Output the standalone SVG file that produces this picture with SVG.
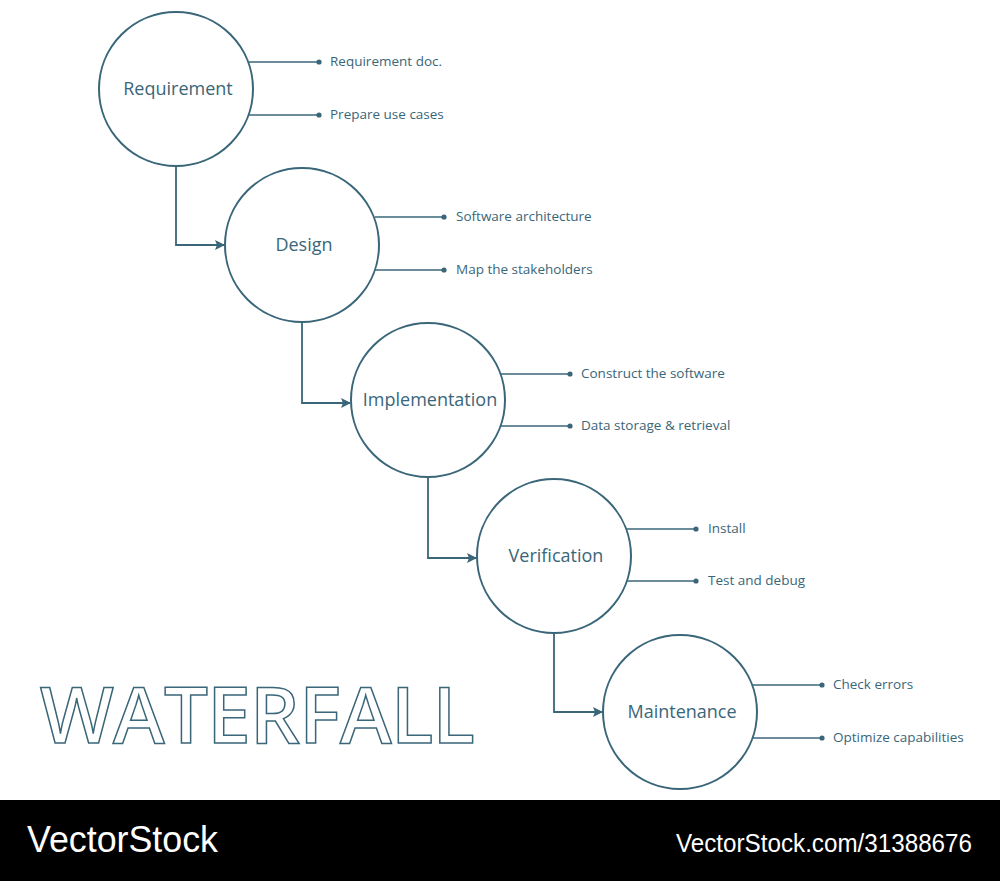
<svg xmlns="http://www.w3.org/2000/svg" width="1000" height="881" viewBox="0 0 1000 881">
<defs>
<style>
.node circle{fill:#fff;stroke:#3a6679;stroke-width:2}
.node text.t{font-family:"Open Sans","Noto Sans",sans-serif;font-size:18px;fill:#3a6679;text-anchor:middle}
.node line{stroke:#3a6679;stroke-width:1.6}
.node circle.d{fill:#3a6679;stroke:none}
.node text.l{font-family:"Open Sans","Noto Sans",sans-serif;font-size:13.5px;fill:#3a6679}
.conn path{fill:none;stroke:#3a6679;stroke-width:1.8}
.footer text{font-family:"Liberation Sans",Arial,sans-serif;fill:#fff}
</style>
<marker id="ah" viewBox="0 0 10 10" refX="9" refY="5" markerWidth="10" markerHeight="10" markerUnits="userSpaceOnUse" orient="auto">
<path d="M0,0 L10,5 L0,10 L2,5 Z" fill="#3a6679"/>
</marker>
</defs>
<rect width="1000" height="881" fill="#fff"/>
<g class="conn" id="connectors">
<path d="M176,166 V245 H224" marker-end="url(#ah)"/>
<path d="M302,322 V403 H350" marker-end="url(#ah)"/>
<path d="M428,477 V558 H476" marker-end="url(#ah)"/>
<path d="M554,633 V712 H602" marker-end="url(#ah)"/>
</g>
<g class="node" id="requirement">
<line x1="249" y1="62" x2="319" y2="62"/><circle class="d" cx="319" cy="62" r="2.6"/>
<line x1="249" y1="115" x2="319" y2="115"/><circle class="d" cx="319" cy="115" r="2.6"/>
<circle cx="176" cy="89" r="77"/>
<text class="t" x="178" y="95">Requirement</text>
<text class="l" x="330" y="66">Requirement doc.</text>
<text class="l" x="330" y="119">Prepare use cases</text>
</g>
<g class="node" id="design">
<line x1="375" y1="217" x2="444" y2="217"/><circle class="d" cx="444" cy="217" r="2.6"/>
<line x1="375" y1="270" x2="444" y2="270"/><circle class="d" cx="444" cy="270" r="2.6"/>
<circle cx="302" cy="245" r="77"/>
<text class="t" x="304" y="251">Design</text>
<text class="l" x="456" y="221">Software architecture</text>
<text class="l" x="456" y="274">Map the stakeholders</text>
</g>
<g class="node" id="implementation">
<line x1="501" y1="374" x2="570" y2="374"/><circle class="d" cx="570" cy="374" r="2.6"/>
<line x1="501" y1="426" x2="570" y2="426"/><circle class="d" cx="570" cy="426" r="2.6"/>
<circle cx="428" cy="400" r="77"/>
<text class="t" x="430" y="406">Implementation</text>
<text class="l" x="581" y="378">Construct the software</text>
<text class="l" x="581" y="430">Data storage &amp; retrieval</text>
</g>
<g class="node" id="verification">
<line x1="627" y1="529" x2="696" y2="529"/><circle class="d" cx="696" cy="529" r="2.6"/>
<line x1="627" y1="581" x2="696" y2="581"/><circle class="d" cx="696" cy="581" r="2.6"/>
<circle cx="554" cy="556" r="77"/>
<text class="t" x="556" y="562">Verification</text>
<text class="l" x="708" y="533">Install</text>
<text class="l" x="708" y="585">Test and debug</text>
</g>
<g class="node" id="maintenance">
<line x1="753" y1="685" x2="822" y2="685"/><circle class="d" cx="822" cy="685" r="2.6"/>
<line x1="753" y1="738" x2="822" y2="738"/><circle class="d" cx="822" cy="738" r="2.6"/>
<circle cx="680" cy="712" r="77"/>
<text class="t" x="682" y="718">Maintenance</text>
<text class="l" x="833" y="689">Check errors</text>
<text class="l" x="833" y="742">Optimize capabilities</text>
</g>
<text x="40" y="743" font-family="Open Sans, Noto Sans, sans-serif" font-weight="600" font-size="78" fill="#fff" stroke="#3a6679" stroke-width="1.5" textLength="435" lengthAdjust="spacing">WATERFALL</text>
<g class="footer">
<rect x="0" y="800" width="1000" height="81" fill="#000"/>
<text x="27" y="852" font-size="37" textLength="191" lengthAdjust="spacingAndGlyphs">VectorStock</text>
<text x="676" y="852" font-size="26" textLength="296" lengthAdjust="spacingAndGlyphs">VectorStock.com/31388676</text>
</g>
</svg>
